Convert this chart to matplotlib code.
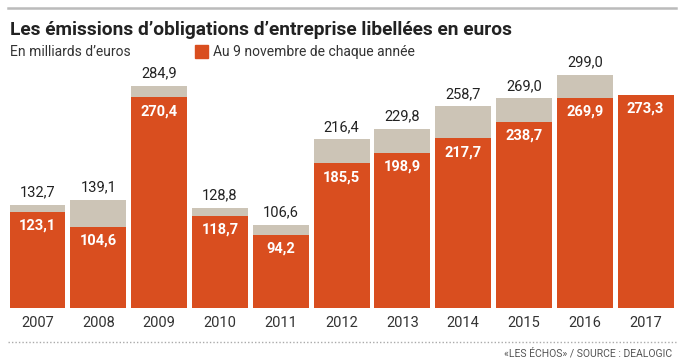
import matplotlib.pyplot as plt
from matplotlib.lines import Line2D
from matplotlib.patches import Rectangle

# data (milliards d'euros)
years = ['2007', '2008', '2009', '2010', '2011', '2012', '2013', '2014', '2015', '2016', '2017']
totals = [132.7, 139.1, 284.9, 128.8, 106.6, 216.4, 229.8, 258.7, 269.0, 299.0, None]
nov9 = [123.1, 104.6, 270.4, 118.7, 94.2, 185.5, 198.9, 217.7, 238.7, 269.9, 273.3]

orange = '#d94e1f'
grey = '#ccc4b6'

plt.rcParams['font.family'] = ['Roboto', 'DejaVu Sans']

W, H = 684, 363
fig = plt.figure(figsize=(W / 100, H / 100), dpi=100)
ax = fig.add_axes([8 / W, 55 / H, 668 / W, 248 / H])

x = list(range(len(years)))
tot_vals = [t if t is not None else 0 for t in totals]
ax.bar(x, tot_vals, width=0.92, color=grey, zorder=1)
ax.bar(x, nov9, width=0.92, color=orange, zorder=2)

def fmt(v):
    return f'{v:.1f}'.replace('.', ',')

for i in x:
    if totals[i] is not None:
        ax.annotate(fmt(totals[i]), (i, totals[i]), xytext=(0, 4), textcoords='offset points',
                    ha='center', va='bottom', fontsize=10.5, color='#222222')
    ax.annotate(fmt(nov9[i]), (i, nov9[i]), xytext=(0, -5), textcoords='offset points',
                ha='center', va='top', fontsize=10.5, color='white', fontweight='bold')

ax.set_xlim(-0.485, 10.5)
ax.set_ylim(0, 318.3)
ax.set_xticks(x)
ax.set_xticklabels(years, fontsize=10.5, color='#333333')
ax.tick_params(axis='x', length=0, pad=6)
ax.set_yticks([])
for s in ax.spines.values():
    s.set_visible(False)

# decorations
fig.add_artist(Line2D([8 / W, 676 / W], [1 - 8 / H, 1 - 8 / H], color='#bbbbbb', lw=1.8))
fig.add_artist(Line2D([8 / W, 676 / W], [1 - 342 / H, 1 - 342 / H], color='#aaaaaa', lw=1,
                      linestyle=(0, (1, 1.5))))

fig.text(10 / W, 1 - 30 / H, 'Les émissions d\u2019obligations d\u2019entreprise libellées en euros',
         fontsize=13.8, fontweight='bold', color='#222222', va='center', ha='left')
fig.text(10 / W, 1 - 52 / H, 'En milliards d\u2019euros', fontsize=10, color='#333333',
         va='center', ha='left')
fig.add_artist(Rectangle((195 / W, 1 - 58 / H), 13 / W, 13 / H, color=orange,
                         transform=fig.transFigure))
fig.text(213 / W, 1 - 52 / H, 'Au 9 novembre de chaque année', fontsize=10, color='#333333',
         va='center', ha='left')
fig.text(672 / W, 1 - 353 / H, '\u00abLES ÉCHOS\u00bb / SOURCE : DEALOGIC', fontsize=7.5,
         color='#555555', va='center', ha='right')

fig.savefig('out.png', dpi=100)
